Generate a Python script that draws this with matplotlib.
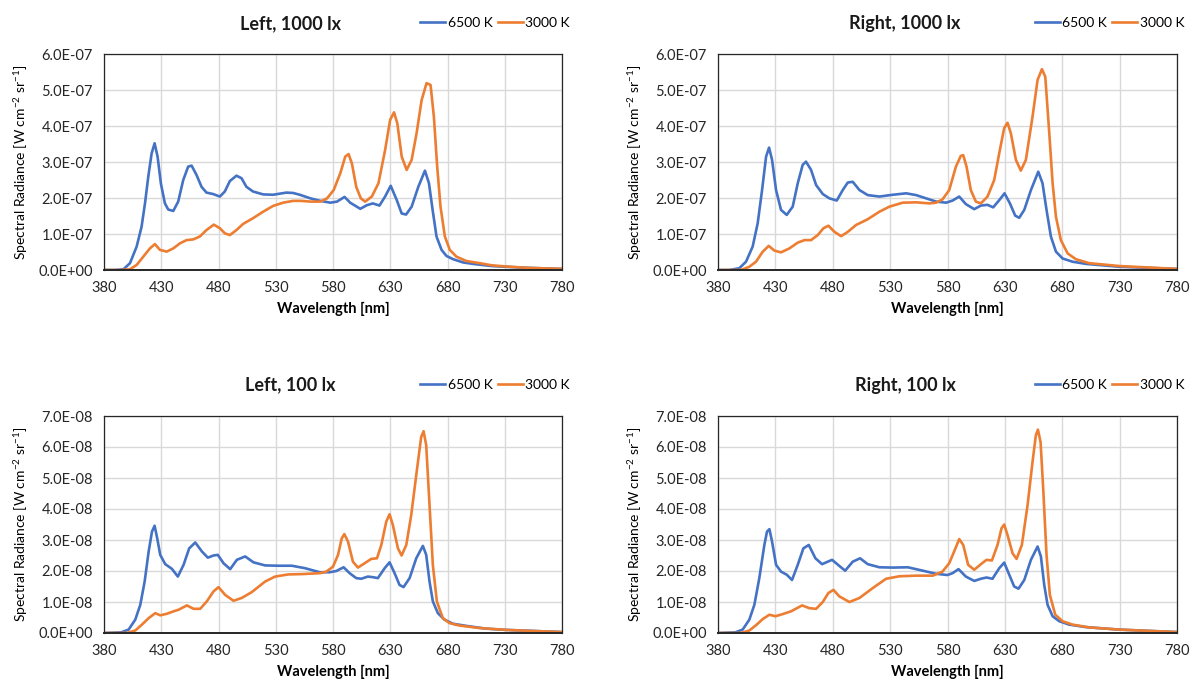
import matplotlib
matplotlib.use("Agg")
import matplotlib.pyplot as plt
from matplotlib.ticker import FuncFormatter, MultipleLocator, FixedLocator

plt.rcParams['font.family'] = ['Lato', 'DejaVu Sans']
plt.rcParams['mathtext.fontset'] = 'custom'
plt.rcParams['mathtext.rm'] = 'Lato'
plt.rcParams['mathtext.it'] = 'Lato:italic'
plt.rcParams['mathtext.bf'] = 'Lato:bold'

BLUE = '#4472C4'
ORANGE = '#ED7D31'

# ---- data (top row in 1e-7, bottom row in 1e-8) ----
# Left, 1000 lx
wl_l1000_6500 = [380, 390, 397, 402.7, 408.5, 412.8, 415.8, 418.7, 421.6, 424.2, 426.8, 429.7, 433.2, 436.1,
                 440.5, 444.8, 449.2, 453.5, 456.5, 460.8, 465.2, 469.5, 475.3, 481.2, 485.5, 489.9, 495.7,
                 500.1, 504.4, 510.2, 519, 527.7, 539.3, 545.1, 551, 560.3, 569, 577.7, 583.5, 590.1, 595,
                 603.8, 609.6, 614.8, 620.6, 625.5, 630.4, 635.7, 640, 643.8, 648.7, 654.5, 660.3, 663.8,
                 667, 670.4, 674.8, 679.1, 684.9, 693.6, 702.3, 718.6, 730, 750, 780]
l1000_6500 = [0, 0, 0.02, 0.19, 0.65, 1.2, 1.85, 2.6, 3.24, 3.52, 3.15, 2.4, 1.85, 1.68,
              1.64, 1.9, 2.5, 2.87, 2.9, 2.64, 2.31, 2.15, 2.11, 2.04, 2.18, 2.47, 2.62,
              2.55, 2.31, 2.18, 2.1, 2.09, 2.15, 2.14, 2.09, 1.99, 1.92, 1.87, 1.9, 2.03, 1.87,
              1.70, 1.8, 1.85, 1.79, 2.04, 2.34, 1.94, 1.57, 1.54, 1.76, 2.31, 2.76, 2.41,
              1.67, 0.93, 0.56, 0.39, 0.30, 0.21, 0.17, 0.11, 0.09, 0.06, 0.03]
wl_l1000_3000 = [380, 395, 402.7, 408.5, 414.3, 420.1, 424.5, 428.8, 434.7, 440.5, 446.3, 452.1, 457.9,
                 463.7, 469.5, 475.9, 481.2, 485.5, 489.9, 495.7, 501.5, 510.2, 519, 527.7, 536.4, 545.1,
                 552, 560.3, 569, 574.8, 580.6, 586.4, 590.7, 593.6, 596.5, 600.3, 604.3, 608.1, 613.9,
                 619.7, 625.5, 629.9, 633.3, 636.2, 640, 644.3, 648.7, 653, 657.4, 661.7, 665.2, 668.1,
                 671, 673.9, 677.7, 682, 687.8, 696.5, 708.1, 718.6, 730, 750, 780]
l1000_3000 = [0, 0, 0.02, 0.14, 0.37, 0.6, 0.72, 0.56, 0.51, 0.6, 0.74, 0.83, 0.85,
              0.93, 1.11, 1.26, 1.16, 1.02, 0.97, 1.11, 1.28, 1.44, 1.62, 1.78, 1.87, 1.92,
              1.92, 1.9, 1.9, 1.99, 2.22, 2.69, 3.15, 3.22, 2.96, 2.31, 1.99, 1.9, 2.04,
              2.41, 3.33, 4.17, 4.38, 4.07, 3.15, 2.78, 3.06, 3.8, 4.72, 5.19, 5.14, 4.26,
              2.87, 1.76, 0.93, 0.56, 0.37, 0.25, 0.19, 0.13, 0.1, 0.06, 0.03]

# Right, 1000 lx
wl_r1000_6500 = [380, 390, 398.6, 404.4, 410.2, 414.6, 418.4, 421.9, 424.5, 427.1, 430.6, 434.9, 439.9,
                 445.1, 449.5, 453.8, 456.7, 461.1, 465.5, 471.3, 477.1, 483.5, 488.7, 493.1, 497.4,
                 503.3, 510.5, 520.7, 532.3, 544, 552.7, 561.4, 570.1, 578.8, 584.5, 590.2, 596, 603.3,
                 609.1, 614.9, 619.8, 625.1, 629.7, 634.4, 639, 642.5, 646.9, 652.7, 659.1, 662.8,
                 666.3, 670.1, 674.5, 680.3, 689, 700.6, 729.7, 780]
r1000_6500 = [0, 0, 0.05, 0.23, 0.65, 1.3, 2.22, 3.15, 3.40, 3.06, 2.22, 1.67, 1.53,
              1.76, 2.41, 2.92, 3.01, 2.78, 2.36, 2.11, 1.99, 1.93, 2.22, 2.43, 2.45,
              2.22, 2.08, 2.04, 2.09, 2.13, 2.08, 1.99, 1.9, 1.87, 1.93, 2.04, 1.83, 1.69,
              1.79, 1.81, 1.74, 1.94, 2.13, 1.85, 1.51, 1.45, 1.67, 2.22, 2.73, 2.41,
              1.67, 0.93, 0.51, 0.32, 0.23, 0.17, 0.09, 0.03]
wl_r1000_3000 = [380, 400, 407.3, 413.1, 419, 424.2, 429.1, 434.9, 442.2, 449.5, 455.3, 461.1, 466.9,
                 471.9, 476.2, 481.5, 487.3, 493.1, 500.3, 510.5, 520.7, 529.4, 541, 552.7, 564.3, 570,
                 575.6, 581.5, 587.3, 591.6, 593.7, 596.6, 600.3, 604.7, 609.1, 614.9, 620.7, 625.6,
                 629.4, 632.3, 635.2, 639.6, 643.9, 648.3, 654.1, 658.5, 662.3, 665.2, 668.7, 671.6,
                 674.5, 678.8, 684.7, 691.9, 703.5, 729.7, 780]
r1000_3000 = [0, 0, 0.09, 0.23, 0.51, 0.67, 0.54, 0.49, 0.6, 0.76, 0.83, 0.83, 0.97,
              1.16, 1.23, 1.06, 0.94, 1.06, 1.25, 1.41, 1.62, 1.76, 1.87, 1.88, 1.85, 1.87,
              1.96, 2.22, 2.87, 3.17, 3.19, 2.87, 2.22, 1.9, 1.85, 2.04, 2.5, 3.33,
              3.94, 4.09, 3.8, 3.06, 2.76, 3.06, 4.26, 5.28, 5.58, 5.37, 3.8, 2.41,
              1.48, 0.83, 0.46, 0.3, 0.19, 0.11, 0.03]

# Left, 100 lx
wl_l100_6500 = [380, 395, 401.5, 407.3, 411.7, 415.5, 419, 421.9, 424.2, 426.5, 429.1, 433.5, 439.3,
                444.5, 449.5, 454.4, 459.7, 465.5, 470.7, 475.6, 479.4, 484.4, 490.2, 496, 503.3,
                510.5, 520.7, 532.3, 544, 555.6, 568.4, 577.1, 582.9, 589.3, 594.5, 600.3, 604.7,
                610.5, 614.9, 619.2, 625.1, 629.4, 633.8, 638.1, 641.6, 646.9, 652.7, 658.5, 661.4,
                664.3, 667.2, 671.6, 677.4, 684.7, 696.3, 713.7, 731.2, 780]
l100_6500 = [0, 0.02, 0.11, 0.43, 0.91, 1.66, 2.63, 3.27, 3.46, 3.05, 2.52, 2.22, 2.07,
             1.82, 2.2, 2.73, 2.92, 2.63, 2.43, 2.5, 2.52, 2.25, 2.06, 2.36, 2.47,
             2.28, 2.18, 2.17, 2.17, 2.09, 1.96, 1.96, 2.0, 2.12, 1.93, 1.77, 1.75,
             1.82, 1.8, 1.77, 2.09, 2.28, 1.93, 1.55, 1.48, 1.77, 2.41, 2.81, 2.52,
             1.66, 1.02, 0.64, 0.43, 0.3, 0.23, 0.14, 0.1, 0.03]
wl_l100_3000 = [380, 400, 407.3, 413.1, 419, 424.8, 429.1, 434.9, 440.8, 445.1, 452.4, 458.2, 464,
                469.8, 475.6, 480, 485.8, 493.1, 500.3, 509.1, 520.7, 529.4, 541, 552.7, 568.4, 574.2,
                580, 584.4, 587.6, 589.9, 593.1, 597.4, 601.8, 607.6, 613.4, 618.4, 622.2, 626.5,
                629.4, 632.3, 636.7, 639.9, 644, 648.3, 652.7, 657, 659.1, 661.4, 664.3, 667.2,
                670.7, 675.9, 681.7, 690.5, 707.9, 731.2, 780]
l100_3000 = [0, 0, 0.08, 0.27, 0.48, 0.64, 0.57, 0.62, 0.7, 0.75, 0.89, 0.78, 0.78,
             1.02, 1.34, 1.48, 1.23, 1.04, 1.13, 1.32, 1.66, 1.82, 1.89, 1.9, 1.93, 1.98,
             2.14, 2.52, 3.05, 3.19, 2.95, 2.3, 2.11, 2.25, 2.39, 2.41, 2.84, 3.59,
             3.83, 3.48, 2.73, 2.5, 2.84, 3.8, 5.09, 6.32, 6.51, 6.06, 4.13, 2.2,
             1.02, 0.48, 0.32, 0.24, 0.16, 0.1, 0.03]

# Right, 100 lx
wl_r100_6500 = [380, 395, 401.5, 407.3, 411.7, 416, 420.4, 422.7, 424.8, 427.1, 430.6, 434.9, 439.9,
                444.5, 449.5, 454.4, 459.1, 464.9, 470.7, 475.6, 479.4, 485.2, 490.8, 497.4, 503.8,
                510.5, 520.7, 532.3, 545.4, 558.5, 570.1, 580, 584.4, 589.6, 596, 603.3, 609.1, 614,
                619.2, 625.1, 629.4, 633.8, 638.1, 641.9, 646.9, 652.7, 658.5, 661.4, 664.3, 667.2,
                671.6, 677.4, 686.1, 700.6, 729.4, 780]
r100_6500 = [0, 0.02, 0.11, 0.43, 0.91, 1.77, 2.84, 3.27, 3.35, 2.95, 2.2, 1.98, 1.88,
             1.71, 2.2, 2.73, 2.84, 2.41, 2.22, 2.3, 2.36, 2.18, 2.01, 2.3, 2.41,
             2.22, 2.12, 2.11, 2.12, 2.01, 1.91, 1.87, 1.93, 2.06, 1.82, 1.68, 1.75, 1.79,
             1.75, 2.09, 2.27, 1.88, 1.5, 1.43, 1.71, 2.36, 2.79, 2.47, 1.55, 0.91,
             0.54, 0.38, 0.27, 0.19, 0.11, 0.03]
wl_r100_3000 = [380, 400, 407.3, 413.1, 419, 424.8, 430, 436.4, 443.7, 453.3, 459.7, 465.5, 471.3,
                476.2, 480.6, 485.8, 494.5, 503.3, 514.9, 526.5, 538.1, 552.7, 567.2, 575.6, 581.5,
                585.8, 590.2, 593.7, 598, 603.3, 609.1, 614, 618.7, 623.6, 627.1, 629.4, 632.3,
                636.7, 640.2, 644.8, 649.8, 654.1, 657, 658.8, 661.1, 663.4, 666.3, 669.2, 673.9,
                680.3, 689, 703.5, 729.4, 780]
r100_3000 = [0, 0, 0.08, 0.25, 0.45, 0.59, 0.54, 0.61, 0.7, 0.89, 0.8, 0.78, 1.0,
             1.29, 1.39, 1.18, 1.0, 1.13, 1.45, 1.75, 1.83, 1.85, 1.85, 1.98, 2.25,
             2.63, 3.03, 2.84, 2.2, 2.04, 2.22, 2.36, 2.34, 2.84, 3.38, 3.5, 3.16,
             2.57, 2.39, 2.84, 4.13, 5.52, 6.38, 6.56, 6.16, 4.66, 2.52, 1.23, 0.59,
             0.38, 0.27, 0.18, 0.11, 0.03]

titles = ['Left, 1000 lx', 'Right, 1000 lx', 'Left, 100 lx', 'Right, 100 lx']
scales = [1e-7, 1e-7, 1e-8, 1e-8]
ymax = [6e-7, 6e-7, 7e-8, 7e-8]
xticks = list(range(380, 781, 50))
series = [
    (wl_l1000_6500, l1000_6500, wl_l1000_3000, l1000_3000),
    (wl_r1000_6500, r1000_6500, wl_r1000_3000, r1000_3000),
    (wl_l100_6500, l100_6500, wl_l100_3000, l100_3000),
    (wl_r100_6500, r100_6500, wl_r100_3000, r100_3000),
]
# axes rectangles in pixels (left, top, right, bottom) of a 1196x687 figure
boxes = [(104, 54, 562, 270), (718, 54, 1177, 270),
         (104, 416, 562, 633), (718, 416, 1177, 633)]

W, H = 1196, 687
fig = plt.figure(figsize=(W / 100, H / 100), dpi=100)

sci = FuncFormatter(lambda v, p: f"{v:.1E}")

for i in range(4):
    l, t, r, b = boxes[i]
    ax = fig.add_axes([l / W, 1 - b / H, (r - l) / W, (b - t) / H])
    wb, vb, wo, vo = series[i]
    s = scales[i]
    ax.plot(wb, [v * s for v in vb], color=BLUE, lw=1.9, label='6500 K', solid_joinstyle='round')
    ax.plot(wo, [v * s for v in vo], color=ORANGE, lw=1.9, label='3000 K', solid_joinstyle='round')

    ax.set_xlim(380, 780)
    ax.set_ylim(0, ymax[i])
    ax.xaxis.set_major_locator(FixedLocator(xticks))
    ax.yaxis.set_major_locator(MultipleLocator(scales[i]))
    ax.yaxis.set_major_formatter(sci)
    ax.grid(True, color='#D9D9D9', lw=1.0)
    ax.set_axisbelow(True)
    ax.tick_params(length=0, labelsize=10.5, pad=8, colors='#262626')
    for sp in ax.spines.values():
        sp.set_color('#262626')
        sp.set_linewidth(0.9)
    ax.spines['bottom'].set_linewidth(1.4)

    ax.set_xlabel('Wavelength [nm]', fontsize=10.5, fontweight='bold', labelpad=5)
    ax.set_ylabel('Spectral Radiance [W cm$^{-2}$ sr$^{-1}$]', fontsize=10, labelpad=6)

    ax.text(0.4075, 1.142, titles[i], transform=ax.transAxes, ha='center', va='center',
            fontsize=13, fontweight='bold', color='#1a1a1a')
    ax.legend(loc='center left', bbox_to_anchor=(0.69, 1.142), ncol=2, frameon=False,
              fontsize=10, handlelength=1.8, handletextpad=0.2, columnspacing=0.35,
              borderpad=0, borderaxespad=0)

fig.savefig('out.png', dpi=100)
